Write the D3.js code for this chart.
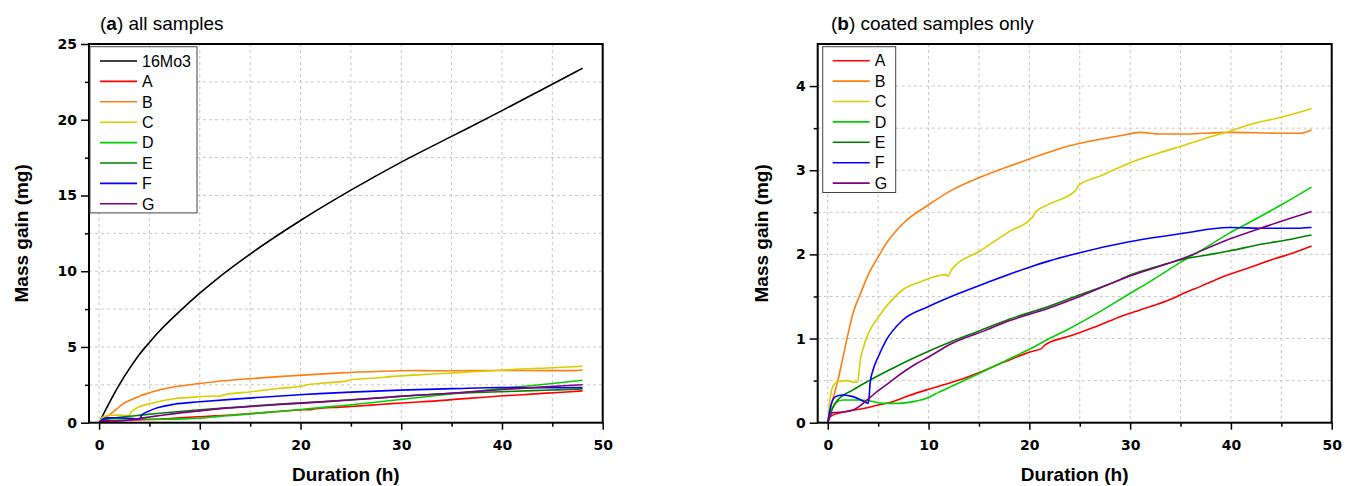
<html>
<head>
<title>mass gain</title>
<script src="https://d3js.org/d3.v7.min.js"></script>
<style>
body { margin: 0; background: #fff; }
svg { display: block; }
.tick text { font-family: 'DejaVu Sans', sans-serif; font-weight: bold; font-size: 14px; }
</style>
</head>
<body>
<svg id="chart" width="1349" height="486"></svg>
<script>
// series names + colours (panel a has 16Mo3 on top)
var names = ["16Mo3", "A", "B", "C", "D", "E", "F", "G"];
var colors = ["#000000", "#ff0000", "#ff7f0e", "#dccd00", "#00d000", "#008000", "#0000ff", "#800080"];

// [hours, mg]
var s16Mo3 = [[0,0],[1,1.3],[2,2.5],[3,3.55],[4,4.5],[5,5.3],[6,6.05],[8,7.35],[10,8.55],[12,9.65],[14,10.65],[16,11.6],[20,13.35],[25,15.35],[30,17.2],[35,18.9],[40,20.6],[44,22.0],[48,23.4]];
var sA = [[0,0],[0.2,0.06],[0.5,0.09],[1,0.11],[2,0.14],[3.15,0.16],[5,0.21],[6.45,0.25],[8,0.32],[9.8,0.39],[11.5,0.45],[13.1,0.51],[15.1,0.6],[17.5,0.72],[20.3,0.85],[21.2,0.88],[21.5,0.92],[24,1.03],[27,1.16],[29,1.26],[30.5,1.32],[32,1.38],[34.5,1.49],[35,1.52],[37,1.62],[39.8,1.76],[42,1.85],[44.4,1.95],[46,2.01],[48,2.1]];
var sB = [[0,0],[0.3,0.18],[1,0.5],[2,1.05],[2.5,1.3],[3.3,1.55],[4.1,1.78],[5,1.97],[5.8,2.13],[7.5,2.37],[10,2.59],[12.4,2.77],[15,2.91],[19,3.09],[24,3.29],[29,3.41],[31,3.45],[33,3.43],[35,3.43],[40,3.45],[45,3.44],[47,3.44],[48,3.48]];
var sC = [[0,0],[0.2,0.25],[0.5,0.43],[1,0.49],[2,0.5],[2.6,0.48],[2.95,0.48],[3.1,0.6],[3.2,0.72],[3.5,0.88],[4.1,1.08],[5,1.25],[5.8,1.38],[7.45,1.58],[9.1,1.67],[11.7,1.76],[11.9,1.74],[12.3,1.82],[15.1,2.04],[18,2.27],[20.3,2.44],[20.6,2.5],[22,2.6],[24.6,2.76],[24.9,2.82],[27,2.93],[30,3.09],[33,3.21],[35.2,3.29],[37.5,3.38],[39.8,3.46],[41.8,3.54],[45,3.63],[48,3.73]];
var sD = [[0,0],[0.3,0.12],[0.8,0.24],[1.5,0.27],[3,0.27],[4.1,0.26],[5.5,0.23],[7,0.23],[8.5,0.25],[9.8,0.29],[11,0.36],[12.4,0.44],[13.7,0.51],[15.1,0.59],[17.7,0.74],[20.3,0.89],[22,1.0],[24,1.12],[27,1.32],[29.9,1.53],[32,1.68],[35.2,1.92],[37.5,2.08],[39.8,2.25],[42,2.39],[45,2.59],[48,2.8]];
var sE = [[0,0],[0.3,0.12],[0.8,0.24],[2.5,0.39],[4.1,0.5],[6,0.62],[8,0.74],[10,0.85],[12,0.95],[15,1.09],[18,1.23],[21.9,1.38],[25,1.52],[29,1.7],[29.9,1.75],[32.5,1.85],[35.2,1.94],[37.5,1.99],[39.8,2.04],[43,2.12],[45.5,2.17],[48,2.23]];
var sF = [[0,0],[0.3,0.2],[0.66,0.3],[1,0.32],[1.5,0.33],[2.5,0.31],[3.3,0.27],[4.0,0.23],[4.1,0.3],[4.2,0.47],[4.5,0.63],[5,0.78],[5.8,0.98],[7.45,1.22],[10,1.38],[13.1,1.54],[15.7,1.66],[20.3,1.86],[21.9,1.92],[25,2.02],[29.9,2.15],[35.2,2.25],[39.8,2.32],[43.4,2.31],[46,2.31],[48,2.32]];
var sG = [[0,0],[0.2,0.08],[0.5,0.12],[1.8,0.13],[2.5,0.15],[3.2,0.2],[4.1,0.29],[5,0.38],[5.8,0.45],[6.45,0.51],[8.77,0.7],[10,0.78],[12.1,0.93],[15.7,1.1],[18,1.21],[21.9,1.36],[25,1.5],[29.9,1.74],[35.2,1.95],[39.8,2.18],[43.4,2.33],[48,2.51]];
var allSeries = [s16Mo3, sA, sB, sC, sD, sE, sF, sG];

var xTicks = [0, 10, 20, 30, 40, 50];
var yTicksA = [0, 5, 10, 15, 20, 25];
var yTicksB = [0, 1, 2, 3, 4];

var svg = d3.select("#chart");

function drawPanel(p) {
	var x = d3.scaleLinear().domain([-1, 50]).range([p.left, p.right]);
	var y = d3.scaleLinear().domain([0, p.ymax]).range([422.7, 44]);
	var g = svg.append("g");

	// dashed grid at major + minor positions
	var xGrid = d3.range(0, 50.01, 5);
	var yGrid = d3.range(p.yminor, p.ymax, p.yminor);
	g.selectAll(".vg").data(xGrid).enter().append("line")
		.attr("x1", function (d) { return x(d); }).attr("x2", function (d) { return x(d); })
		.attr("y1", y(p.ymax)).attr("y2", y(0))
		.style("stroke", "#c8c8c8").style("stroke-dasharray", "3,3");
	g.selectAll(".hg").data(yGrid).enter().append("line")
		.attr("x1", x(-1)).attr("x2", x(50))
		.attr("y1", function (d) { return y(d); }).attr("y2", function (d) { return y(d); })
		.style("stroke", "#c8c8c8").style("stroke-dasharray", "3,3");

	// curves
	var line = d3.line()
		.x(function (d) { return x(d[0]); })
		.y(function (d) { return y(d[1]); })
		.curve(d3.curveMonotoneX);
	p.idx.forEach(function (i) {
		g.append("path").datum(allSeries[i])
			.attr("d", line)
			.style("fill", "none")
			.style("stroke", colors[i])
			.style("stroke-width", 1.6);
	});

	// axes
	var xMinor = g.append("g").attr("transform", "translate(0,422.7)")
		.call(d3.axisBottom(x).tickValues([5, 15, 25, 35, 45]).tickSize(4).tickFormat(""));
	var xAxis = g.append("g").attr("transform", "translate(0,422.7)")
		.call(d3.axisBottom(x).tickValues(xTicks).tickSize(7).tickPadding(6).tickFormat(d3.format("d")));
	var yMinor = g.append("g").attr("transform", "translate(" + p.left + ",0)")
		.call(d3.axisLeft(y).tickValues(d3.range(p.yminor, p.ymax, p.yminor * 2)).tickSize(4).tickFormat(""));
	var yAxis = g.append("g").attr("transform", "translate(" + p.left + ",0)")
		.call(d3.axisLeft(y).tickValues(p.yticks).tickSize(8).tickPadding(4).tickFormat(d3.format("d")));
	[xMinor, xAxis, yMinor, yAxis].forEach(function (a) {
		a.select(".domain").remove();
		a.selectAll(".tick line").style("stroke", "#000").style("stroke-width", 1.5);
	});
	xAxis.selectAll(".tick text").attr("dy", "1.05em");

	// frame
	g.append("rect")
		.attr("x", p.left).attr("y", 44)
		.attr("width", p.right - p.left).attr("height", 422.7 - 44)
		.style("fill", "none").style("stroke", "#000").style("stroke-width", 2);

	// titles
	var t = g.append("text").attr("x", p.titleX).attr("y", 30)
		.style("font-family", "'Liberation Sans', Arial, sans-serif").style("font-size", "19px");
	t.append("tspan").text("(");
	t.append("tspan").text(p.letter).style("font-weight", "bold");
	t.append("tspan").text(") " + p.title);

	g.append("text").text("Duration (h)")
		.attr("x", (p.left + p.right) / 2).attr("y", 481)
		.attr("text-anchor", "middle")
		.style("font-family", "'Liberation Sans', Arial, sans-serif").style("font-size", "19px").style("font-weight", "bold");
	g.append("text").text("Mass gain (mg)")
		.attr("transform", "translate(" + p.ylabX + "," + ((44 + 422.7) / 2) + ") rotate(-90)")
		.attr("text-anchor", "middle")
		.style("font-family", "'Liberation Sans', Arial, sans-serif").style("font-size", "19px").style("font-weight", "bold");

	// legend
	var lg = g.append("g");
	lg.append("rect")
		.attr("x", p.legX).attr("y", 46.7)
		.attr("width", p.legW).attr("height", 20.4 * p.idx.length + 3)
		.style("fill", "#fff").style("stroke", "#444").style("stroke-width", 1);
	p.idx.forEach(function (i, k) {
		var ly = p.legY0 + k * 20.4;
		lg.append("line")
			.attr("x1", p.legX + 10).attr("x2", p.legX + 47)
			.attr("y1", ly).attr("y2", ly)
			.style("stroke", colors[i]).style("stroke-width", 1.6);
		lg.append("text").text(names[i])
			.attr("x", p.legX + 52).attr("y", ly + 5.7)
			.style("font-family", "'Liberation Sans', Arial, sans-serif").style("font-size", "16px");
	});
}

drawPanel({ left: 89, right: 602.7, ymax: 25, yminor: 2.5, yticks: yTicksA, idx: [0, 1, 2, 3, 4, 5, 6, 7],
	letter: "a", title: "all samples", titleX: 100, ylabX: 28, legX: 90, legW: 107, legY0: 61 });
drawPanel({ left: 817.7, right: 1331.7, ymax: 4.5, yminor: 0.5, yticks: yTicksB, idx: [1, 2, 3, 4, 5, 6, 7],
	letter: "b", title: "coated samples only", titleX: 831, ylabX: 768, legX: 822.7, legW: 73, legY0: 60.7 });
</script>
</body>
</html>
